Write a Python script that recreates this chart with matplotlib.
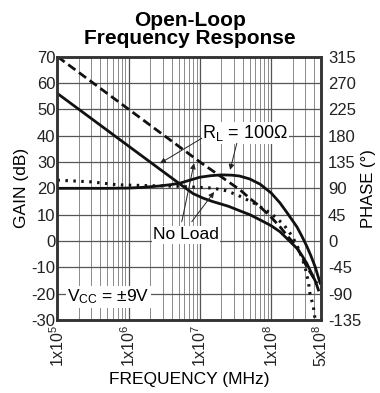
import numpy as np
import matplotlib
matplotlib.use("Agg")
import matplotlib.pyplot as plt
from matplotlib.ticker import FixedLocator, NullFormatter

plt.rcParams['font.family'] = ['Liberation Sans', 'DejaVu Sans']
plt.rcParams['mathtext.default'] = 'regular'
plt.rcParams['axes.unicode_minus'] = False

# gain, no load (dB)
gain_nl_f = [1e5, 1e6, 1e7, 3.66e7, 5e7, 7e7, 1e8, 1.33e8, 1.7e8, 2.29e8, 2.7e8, 3.16e8, 3.7e8, 4.4e8]
gain_nl_db = [70, 50, 30, 19.4, 16.2, 13, 9, 5.4, 1.8, -2.2, -6, -9.8, -12.8, -16.1]

# gain, RL = 100 ohm (dB)
gain_rl_f = [1e5, 1e6, 5.5e6, 8e6, 1.1e7, 1.5e7, 2.5e7, 3.6e7, 5e7, 7e7, 1e8, 1.33e8, 1.7e8,
             2.3e8, 2.7e8, 3.16e8, 3.5e8, 3.9e8, 4.2e8, 4.6e8]
gain_rl_db = [56, 36, 21.2, 18, 16.3, 15, 13.2, 11.5, 10, 8, 5.8, 3.5, 0.7,
              -2.8, -5.5, -8.5, -11, -13.6, -15.5, -18.6]

# phase, RL = 100 ohm (deg)
phase_rl_f = [1e5, 5e5, 1e6, 1.5e6, 2.7e6, 4e6, 5.3e6, 7e6, 1e7, 1.4e7, 2e7, 2.8e7, 3.6e7, 5e7,
              7e7, 1e8, 1.33e8, 1.7e8, 2.3e8, 2.7e8, 3.16e8, 3.6e8, 4.14e8, 4.86e8]
phase_rl_deg = [90, 90, 90.5, 91.5, 94, 96.5, 99, 103.5, 109, 111.5, 113, 112.5, 111, 106,
                97, 82, 65, 47, 24, 8, -9, -25, -44, -72]

# phase, no load (deg)
phase_nl_f = [1e5, 3e5, 7e5, 2e6, 5e6, 1.5e7, 2.3e7, 3.3e7, 4.5e7, 6.3e7, 8e7, 1e8, 1.5e8, 2e8,
              2.5e8, 3e8, 3.35e8, 3.5e8, 3.9e8, 4.15e8]
phase_nl_deg = [104, 101, 96, 94.5, 93.5, 90.5, 86, 79, 71, 62, 54, 47, 28, 7,
                -17, -45, -72, -90, -112, -135]

gain_ticks = list(range(-30, 71, 10))
phase_ticks = list(range(-135, 316, 45))
freq_ticks = [1e5, 1e6, 1e7, 1e8, 5e8]
freq_labels = ['1x10$^5$', '1x10$^6$', '1x10$^7$', '1x10$^8$', '5x10$^8$']

fig = plt.figure(figsize=(3.8, 3.93), dpi=100)
ax = fig.add_axes([0.1513, 0.1858, 0.6934, 0.67])
ax.set_xscale('log')
ax.set_xlim(1e5, 5e8)
ax.set_ylim(-30, 70)

ax2 = ax.twinx()
ax2.set_ylim(-135, 315)

# grid
minor = [m * 10 ** e for e in range(5, 9) for m in range(2, 10) if m * 10 ** e < 5e8]
ax.xaxis.set_major_locator(FixedLocator(freq_ticks))
ax.xaxis.set_minor_locator(FixedLocator(minor))
ax.xaxis.set_minor_formatter(NullFormatter())
ax.set_xticklabels(freq_labels, rotation=90, fontsize=11)
ax.set_yticks(gain_ticks)
ax.grid(True, which='major', color='#555555', lw=0.9)
ax.grid(True, which='minor', axis='x', color='#8a8a8a', lw=0.7)
ax.set_axisbelow(True)

ax2.set_yticks(phase_ticks)

for a in (ax, ax2):
    for s in a.spines.values():
        s.set_linewidth(1.8)
        s.set_color('#333333')
    a.tick_params(which='both', direction='in', length=0, labelsize=12, colors='#222222')
ax.tick_params(axis='y', pad=1.5)
ax2.tick_params(axis='y', pad=5)
ax.tick_params(axis='x', pad=3, labelsize=11.5)

# curves
ax.plot(gain_nl_f, gain_nl_db, color='#111111', lw=2.0, ls=(0, (3.2, 1.6)))
ax.plot(gain_rl_f, gain_rl_db, color='#111111', lw=2.0)
ax2.plot(phase_rl_f, phase_rl_deg, color='#111111', lw=2.0)
ax2.plot(phase_nl_f, phase_nl_deg, color='#111111', lw=2.2, ls=(0, (0.8, 1.8)))

# labels
box = dict(facecolor='white', edgecolor='none', pad=1.0)
arrow = dict(arrowstyle='-|>', lw=0.7, color='#222222', mutation_scale=8, shrinkA=0, shrinkB=0)

ax.text(4.3e7, 41.0, 'R$_L$ = 100Ω', ha='center', va='center', fontsize=13, bbox=box, zorder=5)
ax.annotate('', xy=(2.75e6, 29.5), xytext=(1.06e7, 39.0), arrowprops=arrow, zorder=6)
ax.annotate('', xy=(2.65e7, 27.0), xytext=(3.29e7, 37.1), arrowprops=arrow, zorder=6)

ax.text(6.38e6, 2.3, 'No Load', ha='center', va='center', fontsize=12.5, bbox=box, zorder=5)
ax.annotate('', xy=(8.26e6, 29.5), xytext=(5.55e6, 7.3), arrowprops=arrow, zorder=6)
ax.annotate('', xy=(1.58e7, 18.6), xytext=(7.67e6, 7.3), arrowprops=arrow, zorder=6)

ax.text(1.36e5, -21.3, 'V$_{CC}$ = ±9V', ha='left', va='center', fontsize=12.5, bbox=box, zorder=5)

ax.set_xlabel('FREQUENCY (MHz)', fontsize=12.5, labelpad=4)
ax.set_ylabel('GAIN (dB)', fontsize=12.5, labelpad=2)
ax2.set_ylabel('PHASE (°)', fontsize=12, labelpad=0)
fig.text(0.5, 0.925, 'Open-Loop\nFrequency Response', ha='center', va='center',
         fontsize=15, fontweight='bold', linespacing=0.95)

fig.savefig('out.png', dpi=100)
